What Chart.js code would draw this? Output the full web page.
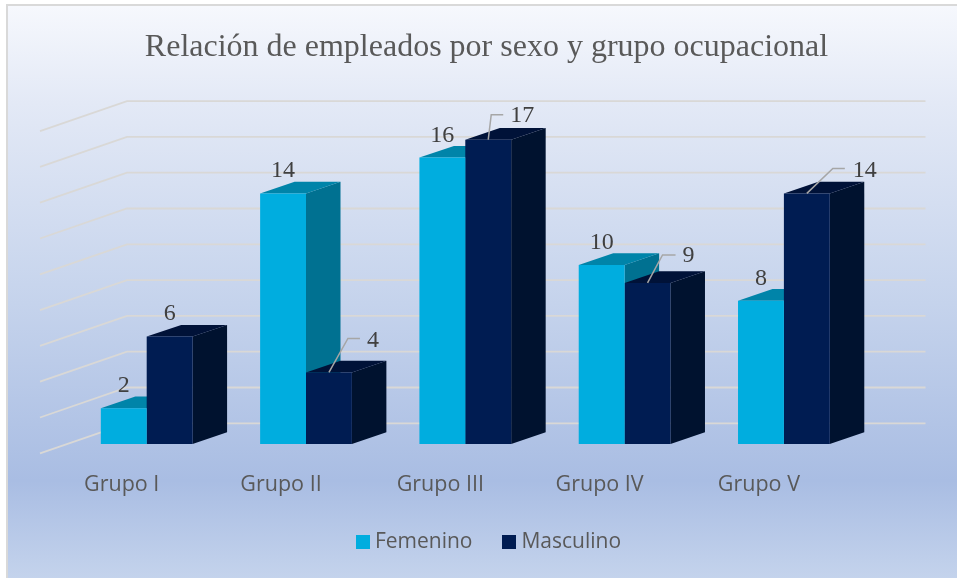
<!DOCTYPE html>
<html><head><meta charset="utf-8">
<style>
html,body{margin:0;padding:0;background:#fff;width:957px;height:578px;overflow:hidden}
#bg{position:absolute;left:6px;top:4px;width:951px;height:574px;box-sizing:border-box;border-left:2px solid #d9d9d9;border-top:2px solid #d9d9d9;
background:linear-gradient(180deg,#f6f8fd 0%,#e3e9f6 17%,#c5d3ec 52%,#a9bde3 83%,#c4d3ec 100%)}
#wrap{position:absolute;left:0;top:0;width:957px;height:578px}
canvas{display:block}
</style>
<script src="https://cdn.jsdelivr.net/npm/chart.js@4"></script>
</head><body><div id="bg"></div><div id="wrap"><canvas id="c" width="957" height="578"></canvas></div>
<script>
const titleText = "Relación de empleados por sexo y grupo ocupacional";
const categories = ["Grupo I","Grupo II","Grupo III","Grupo IV","Grupo V"];
const femenino = [2,14,16,10,8];
const masculino = [6,4,17,9,14];

const colorFem = '#00addf';
const colorMasc = '#001c52';
const depth = {dx:34.5, dy:11.7};
const wall = {leftX:40, backX:127, rightX:925.5, backDy:-20.7, leftDy:9.3};
const faces = [{top:'#0084a9',side:'#007191'},{top:'#001238',side:'#00122f'}];
// label offsets from the top-centre of each bar; [labelDx,labelDy,elbowDx,elbowDy,endDx]
const labelPlace = [
  [[0,-22],[0,-22.5],[0,-21.5],[0,-22],[0,-22.5]],
  [[0,-23],[44,-32,19,-34,31],[34,-24,3,-25,15],[41,-27,15,-28,28],[58,-23,26,-25,38]]
];

function swatch(color){
  const c=document.createElement('canvas');c.width=14;c.height=14;
  const g=c.getContext('2d');g.fillStyle=color;g.fillRect(0,0,14,14);
  return c;
}
const swatches=[swatch(colorFem),swatch(colorMasc)];

const scene3d = {
  id:'scene3d',
  afterLayout(chart){ chart.legend.left+=4.75; chart.legend.right+=4.75; },
  beforeDatasetsDraw(chart){
    const ctx=chart.ctx, y=chart.scales.y;
    ctx.save();
    ctx.strokeStyle='#d9d8d6';ctx.lineWidth=1.8;ctx.lineCap='butt';ctx.lineJoin='miter';
    y.ticks.forEach(t=>{
      const p=y.getPixelForValue(t.value);
      ctx.beginPath();
      ctx.moveTo(wall.leftX,p+wall.leftDy);
      ctx.lineTo(wall.backX,p+wall.backDy);
      ctx.lineTo(wall.rightX,p+wall.backDy);
      ctx.stroke();
    });
    const base=y.getPixelForValue(0);
    [0,1].forEach(di=>{
      chart.getDatasetMeta(di).data.forEach(bar=>{
        const r=bar.x+bar.width/2,l=bar.x-bar.width/2,t=bar.y;
        ctx.fillStyle=faces[di].side;
        ctx.beginPath();ctx.moveTo(r,t);ctx.lineTo(r+depth.dx,t-depth.dy);ctx.lineTo(r+depth.dx,base-depth.dy);ctx.lineTo(r,base);ctx.closePath();ctx.fill();
        ctx.fillStyle=faces[di].top;
        ctx.beginPath();ctx.moveTo(l,t);ctx.lineTo(l+depth.dx,t-depth.dy);ctx.lineTo(r+depth.dx,t-depth.dy);ctx.lineTo(r,t);ctx.closePath();ctx.fill();
      });
    });
    ctx.restore();
  },
  afterDatasetsDraw(chart){
    const ctx=chart.ctx;
    ctx.save();
    ctx.font='24px "Liberation Serif"';ctx.fillStyle='#404040';ctx.textAlign='center';ctx.textBaseline='middle';
    [0,1].forEach(di=>{
      const ds=chart.data.datasets[di];
      chart.getDatasetMeta(di).data.forEach((bar,i)=>{
        const pl=labelPlace[di][i];
        if(pl.length>2){
          ctx.strokeStyle='#a6a6a6';ctx.lineWidth=1.5;
          ctx.beginPath();ctx.moveTo(bar.x,bar.y);ctx.lineTo(bar.x+pl[2],bar.y+pl[3]);ctx.lineTo(bar.x+pl[4],bar.y+pl[3]);ctx.stroke();
        }
        ctx.fillText(String(ds.data[i]),bar.x+pl[0],bar.y+pl[1]);
      });
    });
    ctx.restore();
  }
};

new Chart(document.getElementById('c'),{
  type:'bar',
  data:{labels:categories,datasets:[
    {label:'Femenino',data:femenino,backgroundColor:colorFem,categoryPercentage:0.576,barPercentage:1},
    {label:'Masculino',data:masculino,backgroundColor:colorMasc,categoryPercentage:0.576,barPercentage:1}
  ]},
  options:{
    responsive:false,animation:false,
    layout:{padding:{left:16,right:0,top:0,bottom:15.5}},
    plugins:{
      tooltip:{enabled:false},
      title:{display:true,text:titleText,color:'#595959',font:{family:'"Liberation Serif"',size:32,weight:'normal',lineHeight:1.2},padding:{top:28,bottom:55.4}},
      legend:{position:'bottom',labels:{color:'#595959',usePointStyle:true,pointStyleWidth:3,boxHeight:14,padding:35.5,font:{family:'"Open Sans"',size:21},
        generateLabels(chart){
          const items=Chart.defaults.plugins.legend.labels.generateLabels(chart);
          items.forEach((it,i)=>{it.pointStyle=swatches[i];});
          return items;
        }}}
    },
    scales:{
      x:{grid:{display:false},border:{display:false},ticks:{color:'#595959',padding:20,labelOffset:-25,maxRotation:0,autoSkip:false,font:{family:'"Open Sans"',size:21.5}},afterFit(s){s.height=52;}},
      y:{min:0,max:18,position:'left',grid:{display:false},border:{display:false},ticks:{display:false,stepSize:2},afterFit(s){s.width=51.05;}},
      yRight:{min:0,max:18,position:'right',grid:{display:false},border:{display:false},ticks:{display:false},afterFit(s){s.width=93.45;}}
    }
  },
  plugins:[scene3d]
});
</script></body></html>
